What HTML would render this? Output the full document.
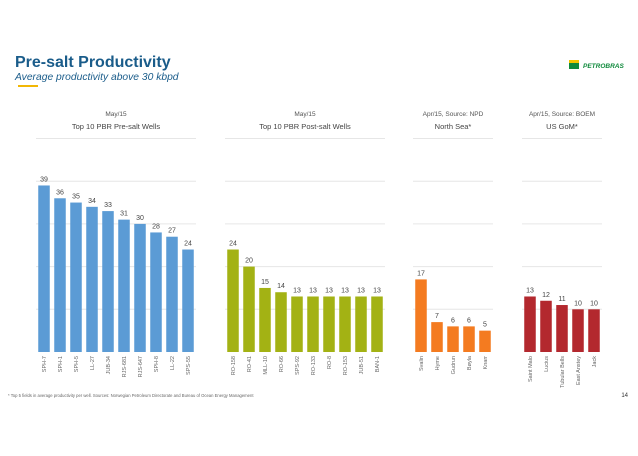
<!DOCTYPE html>
<html><head><meta charset="utf-8"><style>
body{margin:0;width:638px;height:451px;background:#fff;overflow:hidden;font-family:"Liberation Sans",sans-serif}
</style></head><body>
<svg id="c" width="638" height="451" xmlns="http://www.w3.org/2000/svg">
<text x="15" y="67" font-size="16" font-weight="bold" fill="#1a5c8a">Pre-salt Productivity</text>
<text x="15" y="80" font-size="10.3" font-style="italic" fill="#1a5c8a">Average productivity above 30 kbpd</text>
<rect x="18" y="85" width="20" height="2" fill="#f2b705"/>
<rect x="569" y="60" width="10" height="9" fill="#0f8a3c"/>
<rect x="569" y="60" width="10" height="3" fill="#f2c500"/>
<text x="583" y="68" font-size="6.5" font-weight="bold" font-style="italic" fill="#0f8a3c">PETROBRAS</text>
<text x="8" y="397" font-size="4.2" fill="#666">* Top 5 fields in average productivity per well. Sources: Norwegian Petroleum Directorate and Bureau of Ocean Energy Management</text>
<text x="628" y="397" font-size="6" fill="#333" text-anchor="end">14</text>
</svg>
<script>
const p1Cats=["SPH-7","SPH-1","SPH-5","LL-27","JUB-34","RJS-681","RJS-647","SPH-8","LL-22","SPS-55"];
const p1Vals=[39,36,35,34,33,31,30,28,27,24];
const p2Cats=["RO-158","RO-41","MLL-10","RO-66","SPS-92","RO-133","RO-8","RO-153","JUB-51","BAN-1"];
const p2Vals=[24,20,15,14,13,13,13,13,13,13];
const p3Cats=["Svalin","Hyme","Gudrun","Bøyla","Knarr"];
const p3Vals=[17,7,6,6,5];
const p4Cats=["Saint Malo","Lucius","Tubular Bells","East Anstey","Jack"];
const p4Vals=[13,12,11,10,10];
const gridTicks=[10,20,30,40,50];
const svg=document.getElementById('c');
const NS="http://www.w3.org/2000/svg";
const base=352, ppu=4.27;
const y=v=>base-v*ppu;
function mk(tag,attrs){const e=document.createElementNS(NS,tag);for(const k in attrs)e.setAttribute(k,attrs[k]);svg.appendChild(e);return e;}
const panels=[
 {x0:36,x1:196,cats:p1Cats,vals:p1Vals,col:"#5b9bd5",t1:"May/15",t2:"Top 10 PBR Pre-salt Wells",n:"pre-salt"},
 {x0:225,x1:385,cats:p2Cats,vals:p2Vals,col:"#a3b214",t1:"May/15",t2:"Top 10 PBR Post-salt Wells",n:"post-salt"},
 {x0:413,x1:493,cats:p3Cats,vals:p3Vals,col:"#f47b20",t1:"Apr/15, Source: NPD",t2:"North Sea*",n:"north-sea"},
 {x0:522,x1:602,cats:p4Cats,vals:p4Vals,col:"#b3282e",t1:"Apr/15, Source: BOEM",t2:"US GoM*",n:"us-gom"}];
panels.forEach(p=>{
 const cx=(p.x0+p.x1)/2;
 let e=mk('text',{x:cx,y:116,'font-size':6.5,fill:'#555','text-anchor':'middle'});e.textContent=p.t1;
 
 
 e=mk('text',{x:cx,y:129,'font-size':7.5,fill:'#444','text-anchor':'middle'});e.textContent=p.t2;
 
 
 gridTicks.forEach(t=>{const g=mk('line',{x1:p.x0,x2:p.x1,y1:y(t),y2:y(t),stroke:'#e6e6e6','stroke-width':1});
  
  });
 const pitch=(p.x1-p.x0)/p.cats.length, bw=pitch*0.72;
 p.cats.forEach((c,i)=>{
  const bx=p.x0+i*pitch+(pitch-bw)/2, v=p.vals[i];
  const r=mk('rect',{x:bx,y:y(v),width:bw,height:v*ppu,fill:p.col});
  
  
  const l=mk('text',{x:bx+bw/2,y:y(v)-4,'font-size':7,fill:'#444','text-anchor':'middle'});l.textContent=v;
  
  
  const tx=bx+bw/2+2, ty=base+4;
  const k=mk('text',{x:tx,y:ty,'font-size':5.5,fill:'#666','text-anchor':'end',transform:`rotate(-90 ${tx} ${ty})`});k.textContent=c;
  
  
 });
});
</script>
</body></html>
